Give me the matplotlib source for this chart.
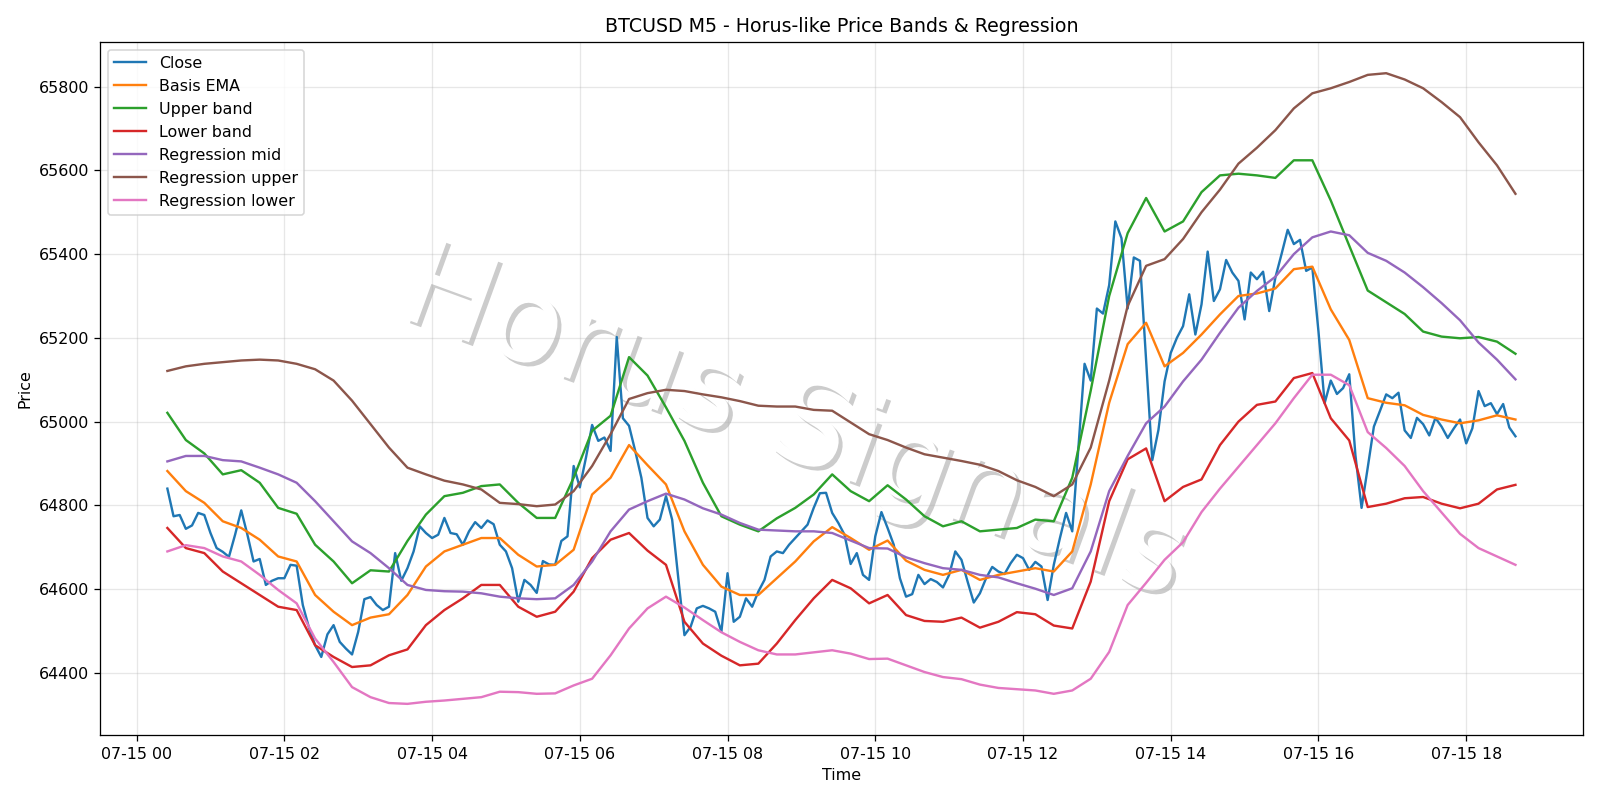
import matplotlib
matplotlib.use("Agg")
import matplotlib.pyplot as plt
import matplotlib.patheffects as pe
import pandas as pd

# ============================
#   DATA (BTCUSD M5, 2024-07-15)
# ============================

close = [
    64840, 64774, 64777, 64744, 64752, 64782, 64777,
    64734, 64698, 64689, 64677, 64730, 64788, 64730, 64666, 64672, 64610, 64620, 64626,
    64626, 64658, 64656, 64562, 64508, 64466, 64438, 64492, 64514, 64474, 64458, 64444,
    64498, 64576, 64581, 64562, 64550, 64558, 64686, 64620, 64650, 64690, 64750, 64734,
    64722, 64730, 64770, 64734, 64731, 64706, 64738, 64760, 64746, 64764, 64755, 64706,
    64690, 64650, 64570, 64622, 64610, 64591, 64667, 64659, 64658, 64715, 64726, 64894,
    64843, 64914, 64992, 64954, 64962, 64930, 65202, 65008, 64990, 64930, 64866, 64770,
    64750, 64766, 64822, 64766, 64626, 64490, 64510, 64554, 64560, 64554, 64546, 64498,
    64638, 64522, 64534, 64578, 64558, 64594, 64622, 64678, 64690, 64686, 64706, 64722,
    64738, 64754, 64794, 64829, 64830, 64782, 64758, 64730, 64660, 64686, 64634, 64622,
    64726, 64784, 64746, 64706, 64626, 64582, 64588, 64634, 64612, 64624, 64617, 64604,
    64634, 64690, 64670, 64618, 64568, 64590, 64626, 64653, 64642, 64636, 64662, 64682,
    64674, 64646, 64665, 64654, 64574, 64658, 64722, 64782, 64738, 64938, 65138, 65098,
    65270, 65258, 65326, 65478, 65438, 65270, 65392, 65384, 65144, 64908, 64980, 65096,
    65164, 65200, 65228, 65304, 65208, 65280, 65406, 65288, 65316, 65386, 65356, 65336,
    65244, 65356, 65340, 65358, 65264, 65344, 65400, 65458, 65424, 65434, 65360, 65368,
    65215, 65044, 65098, 65066, 65080, 65113, 64920, 64794, 64890, 64988, 65026, 65065,
    65056, 65069, 64979, 64961, 65009, 64994, 64967, 65009, 64988, 64961, 64984, 65005,
    64948, 64984, 65073, 65037, 65044, 65018, 65042, 64986, 64965,
]

# bandas lidas a cada 15 minutos
basis_ema = [
    64882, 64834, 64806, 64762, 64746, 64718, 64678, 64666, 64586, 64546, 64514, 64532,
    64540, 64586, 64654, 64690, 64706, 64722, 64722, 64682, 64654, 64658, 64694, 64826,
    64866, 64944, 64896, 64850, 64738, 64658, 64606, 64586, 64586, 64626, 64666, 64714,
    64748, 64722, 64694, 64716, 64668, 64646, 64634, 64646, 64622, 64634, 64642, 64650,
    64642, 64690, 64850, 65045, 65185, 65236, 65132, 65164, 65208, 65256, 65300, 65306,
    65318, 65364, 65370, 65268, 65195, 65056, 65045, 65039, 65016, 65005, 64996, 65003,
    65015, 65005,
]
upper_band = [
    65021, 64956, 64924, 64874, 64884, 64854, 64794, 64780, 64706, 64666, 64614, 64645,
    64642, 64715, 64778, 64822, 64830, 64846, 64850, 64806, 64770, 64770, 64866, 64978,
    65014, 65154, 65110, 65034, 64954, 64854, 64774, 64754, 64738, 64769, 64794, 64826,
    64874, 64834, 64810, 64848, 64814, 64774, 64750, 64762, 64738, 64742, 64746, 64766,
    64762, 64866, 65074, 65300, 65450, 65534, 65454, 65478, 65548, 65588, 65592, 65588,
    65582, 65624, 65624, 65528, 65420, 65313, 65285, 65257, 65215, 65203, 65199, 65202,
    65191, 65162,
]
lower_band = [
    64746, 64698, 64686, 64642, 64614, 64586, 64558, 64550, 64466, 64438, 64414, 64418,
    64442, 64456, 64514, 64550, 64578, 64610, 64610, 64558, 64534, 64546, 64594, 64674,
    64718, 64734, 64692, 64658, 64522, 64470, 64441, 64418, 64422, 64470, 64526, 64578,
    64622, 64602, 64566, 64586, 64538, 64524, 64522, 64532, 64508, 64522, 64545, 64540,
    64513, 64506, 64618, 64810, 64910, 64936, 64810, 64844, 64862, 64944, 65000, 65040,
    65048, 65104, 65116, 65008, 64955, 64796, 64804, 64817, 64820, 64804, 64793, 64804,
    64838, 64849,
]
reg_mid = [
    64905, 64918, 64918, 64908, 64905, 64890, 64874, 64854, 64810, 64762, 64714, 64686,
    64650, 64610, 64598, 64595, 64594, 64590, 64582, 64578, 64576, 64578, 64610, 64666,
    64738, 64790, 64810, 64828, 64814, 64793, 64778, 64758, 64742, 64740, 64738, 64738,
    64734, 64716, 64698, 64697, 64676, 64662, 64650, 64646, 64634, 64628, 64614, 64601,
    64586, 64602, 64690, 64834, 64918, 64996, 65036, 65096, 65148, 65212, 65272, 65312,
    65346, 65400, 65440, 65454, 65445, 65403, 65384, 65356, 65321, 65283, 65242, 65189,
    65148, 65101,
]
reg_upper = [
    65121, 65132, 65138, 65142, 65146, 65148, 65146, 65138, 65125, 65098, 65050, 64994,
    64938, 64890, 64874, 64859, 64850, 64838, 64806, 64803, 64798, 64802, 64834, 64894,
    64970, 65054, 65068, 65076, 65073, 65065, 65058, 65049, 65038, 65036, 65036, 65028,
    65026, 64998, 64970, 64956, 64938, 64922, 64914, 64906, 64897, 64882, 64860, 64844,
    64822, 64850, 64938, 65098, 65276, 65372, 65388, 65436, 65500, 65554, 65616, 65654,
    65696, 65748, 65784, 65796, 65811, 65828, 65832, 65817, 65796, 65763, 65727, 65667,
    65612, 65544,
]
reg_lower = [
    64690, 64705, 64698, 64678, 64666, 64634, 64598, 64566, 64482, 64426, 64366, 64342,
    64328, 64326, 64331, 64334, 64338, 64342, 64355, 64354, 64350, 64351, 64370, 64386,
    64442, 64506, 64554, 64582, 64556, 64526, 64497, 64474, 64454, 64444, 64444, 64449,
    64454, 64446, 64433, 64434, 64418, 64402, 64390, 64385, 64372, 64364, 64361, 64358,
    64350, 64358, 64386, 64450, 64562, 64615, 64670, 64712, 64784, 64840, 64892, 64944,
    64996, 65056, 65112, 65112, 65087, 64975, 64937, 64894, 64834, 64783, 64732, 64698,
    64678, 64658,
]

t_close = pd.date_range("2024-07-15 00:25", periods=len(close), freq="5min")
t_band = pd.date_range("2024-07-15 00:25", periods=len(basis_ema), freq="15min")

# ============================
#   GRÁFICO
# ============================

DPI = 1600 / 14

fig, ax = plt.subplots(figsize=(14, 7), dpi=DPI)

ax.plot(t_close, close, label="Close")
ax.plot(t_band, basis_ema, label="Basis EMA")
ax.plot(t_band, upper_band, label="Upper band")
ax.plot(t_band, lower_band, label="Lower band")
ax.plot(t_band, reg_mid, label="Regression mid")
ax.plot(t_band, reg_upper, label="Regression upper")
ax.plot(t_band, reg_lower, label="Regression lower")

# marca d'água
ax.text(0.468, 0.447, "Horus Signals", transform=ax.transAxes,
        fontsize=76, color="white", rotation=-20,
        ha="center", va="center", zorder=1,
        path_effects=[pe.SimplePatchShadow(offset=(2.5, -2.5), shadow_rgbFace="gray", alpha=0.4),
                      pe.Normal()])

ax.set_title("BTCUSD M5 - Horus-like Price Bands & Regression")
ax.set_xlabel("Time")
ax.set_ylabel("Price")
ax.grid(True, alpha=0.3)
ax.legend(loc="upper left")

plt.tight_layout()
plt.savefig("out.png", dpi=DPI)
